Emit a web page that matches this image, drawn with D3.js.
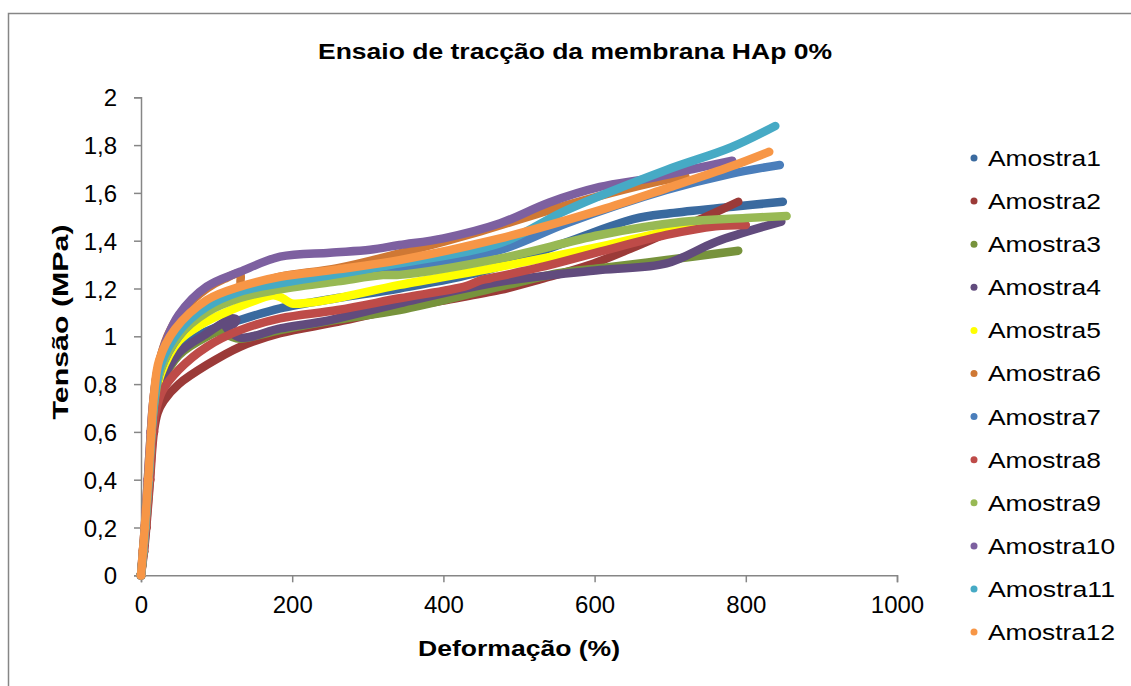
<!DOCTYPE html>
<html>
<head>
<meta charset="utf-8">
<script src="https://cdn.jsdelivr.net/npm/d3@7"></script>
<style>
  body { margin: 0; background: #fff; }
  svg { display: block; font-family: Arial, "Liberation Sans", sans-serif; }
</style>
</head>
<body>
<script>
/* Tensile test curves, membrane HAp 0% */
var seriesNames = ["Amostra1","Amostra2","Amostra3","Amostra4","Amostra5","Amostra6",
                   "Amostra7","Amostra8","Amostra9","Amostra10","Amostra11","Amostra12"];
var seriesColors = ["#3a6a9f","#9b3a38","#77933c","#614b7d","#ffff00","#cf7834",
                    "#4a7ebb","#be4b48","#98b954","#7d60a0","#46aac5","#f79646"];
var xTicks = [0, 200, 400, 600, 800, 1000];
var yTicks = [0, 0.2, 0.4, 0.6, 0.8, 1, 1.2, 1.4, 1.6, 1.8, 2];

// [deformação %, tensão MPa]
var amostra1 = [[0,0],[3,0.1],[5.5,0.2],[10,0.4],[14,0.6],[18,0.7],[25,0.8],[45,0.92],[80,1.01],[131,1.068],[184,1.117],[260,1.16],[342,1.2],[450,1.27],[560,1.39],[651,1.49],[700,1.515],[783,1.542],[849,1.563]];
var amostra2 = [[0,0],[4,0.1],[7,0.2],[12,0.4],[17,0.6],[22,0.68],[30,0.73],[50,0.8],[87,0.88],[131,0.956],[184,1.013],[260,1.06],[342,1.117],[400,1.15],[475,1.194],[530,1.24],[593,1.298],[650,1.37],[695,1.431],[740,1.49],[790,1.563]];
var amostra3 = [[0,0],[3,0.1],[6,0.2],[11,0.4],[15,0.6],[19,0.7],[27,0.8],[50,0.92],[87,0.998],[104,1.019],[118,1.0],[131,0.99],[184,1.026],[260,1.07],[342,1.11],[475,1.208],[554,1.265],[607,1.285],[695,1.319],[790,1.358]];
var amostra4 = [[0,0],[3,0.1],[6,0.2],[10.5,0.4],[14.5,0.6],[18,0.7],[26,0.8],[50,0.93],[87,1.012],[105,1.05],[118,1.075],[126,1.07],[122,1.05],[112,1.045],[131,0.995],[184,1.033],[250,1.068],[342,1.138],[475,1.228],[607,1.277],[695,1.305],[761,1.396],[847,1.48]];
var amostra5 = [[0,0],[3,0.1],[5.5,0.2],[10,0.4],[14,0.6],[18,0.72],[26,0.84],[50,0.98],[80,1.05],[109,1.096],[153,1.152],[175,1.172],[187,1.16],[199,1.138],[220,1.14],[260,1.16],[342,1.215],[475,1.291],[607,1.375],[695,1.438],[740,1.459],[770,1.465]];
var amostra6 = [[0,0],[2.5,0.1],[5,0.2],[9,0.4],[13,0.6],[16,0.72],[22,0.86],[35,1.0],[56,1.11],[87,1.2],[110,1.24],[131,1.262],[133,1.21],[184,1.25],[260,1.285],[342,1.347],[450,1.44],[563,1.549],[673,1.64],[720,1.67]];
var amostra7 = [[0,0],[3,0.1],[5.5,0.2],[10,0.4],[14,0.6],[18,0.73],[26,0.86],[50,1.0],[87,1.11],[131,1.175],[184,1.215],[260,1.245],[342,1.285],[475,1.361],[563,1.473],[695,1.612],[780,1.68],[845,1.717]];
var amostra8 = [[0,0],[3.5,0.1],[6.5,0.2],[11.5,0.4],[16,0.6],[20,0.69],[28,0.77],[50,0.86],[87,0.956],[131,1.026],[184,1.075],[260,1.11],[342,1.159],[430,1.21],[450,1.235],[462,1.243],[530,1.29],[607,1.354],[695,1.424],[760,1.46],[800,1.466]];
var amostra9 = [[0,0],[3,0.1],[5.5,0.2],[10,0.4],[14,0.6],[18,0.73],[26,0.86],[50,1.0],[87,1.1],[131,1.16],[179,1.194],[260,1.23],[320,1.256],[342,1.257],[475,1.326],[607,1.424],[717,1.479],[800,1.495],[854,1.503]];
var amostra10 = [[0,0],[2.5,0.1],[5,0.2],[9,0.4],[13,0.6],[16,0.72],[22,0.86],[33,0.98],[50,1.09],[87,1.208],[131,1.27],[184,1.333],[250,1.35],[303,1.362],[342,1.382],[400,1.41],[475,1.473],[540,1.56],[607,1.625],[673,1.661],[730,1.7],[782,1.735]];
var amostra11 = [[0,0],[3,0.1],[5.5,0.2],[10,0.4],[14,0.6],[18,0.74],[26,0.88],[50,1.02],[87,1.124],[131,1.187],[184,1.222],[260,1.26],[342,1.305],[475,1.389],[563,1.528],[695,1.696],[780,1.79],[839,1.88]];
var amostra12 = [[0,0],[2.5,0.1],[5,0.2],[9.5,0.4],[13.5,0.6],[17,0.75],[24,0.9],[45,1.03],[87,1.152],[131,1.208],[184,1.249],[260,1.28],[342,1.319],[475,1.41],[607,1.528],[695,1.619],[780,1.71],[831,1.772]];
var seriesData = [amostra1, amostra2, amostra3, amostra4, amostra5, amostra6,
                  amostra7, amostra8, amostra9, amostra10, amostra11, amostra12];

var W = 1131, H = 686;
var svg = d3.select("body").append("svg").attr("width", W).attr("height", H);

// chart area border
svg.append("rect")
  .attr("x", 8.5).attr("y", 13.5).attr("width", 1200).attr("height", 700)
  .attr("fill", "#fff").attr("stroke", "#868686").attr("stroke-width", 1.5);

var x = d3.scaleLinear().domain([0, 1000]).range([141, 897]);
var y = d3.scaleLinear().domain([0, 2]).range([575.3, 97.3]);
var fmt = function(d){ return String(d).replace(".", ","); };

// axes
var yAxis = svg.append("g").attr("transform", "translate(141,0)")
  .call(d3.axisLeft(y).tickValues(yTicks).tickSize(7).tickPadding(17).tickFormat(fmt));
var xAxis = svg.append("g").attr("transform", "translate(0,575.3)")
  .call(d3.axisBottom(x).tickValues(xTicks).tickSize(7).tickPadding(12).tickFormat(fmt));
[yAxis, xAxis].forEach(function(a){
  a.select(".domain").attr("stroke", "#868686").attr("stroke-width", 1.5);
  a.selectAll(".tick line").attr("stroke", "#868686").attr("stroke-width", 1.5);
  a.selectAll(".tick text").attr("font-size", 24).attr("fill", "#000")
    .attr("font-family", "Arial, 'Liberation Sans', sans-serif");
});
yAxis.selectAll(".tick text").attr("dy", "0.36em");
xAxis.selectAll(".tick text").attr("dy", "0.8em");

// series: thick smooth lines of markers
var line = d3.line()
  .curve(d3.curveCatmullRom.alpha(0.5))
  .x(function(d){ return x(d[0]); })
  .y(function(d){ return y(d[1]); });
var plot = svg.append("g").attr("class", "series");
seriesData.forEach(function(pts, i){
  var g = plot.append("g");
  g.append("path").datum(pts)
    .attr("d", line)
    .attr("fill", "none")
    .attr("stroke", seriesColors[i])
    .attr("stroke-width", 8.5)
    .attr("stroke-linecap", "round")
    .attr("stroke-linejoin", "round");
  // markers only along the steep start where they show as separate dots
  g.selectAll("circle").data(pts.filter(function(d){ return d[1] <= 0.6; })).enter().append("circle")
    .attr("cx", function(d){ return x(d[0]); })
    .attr("cy", function(d){ return y(d[1]); })
    .attr("r", 4.5)
    .attr("fill", seriesColors[i]);
});

// title and axis titles
svg.append("text").attr("x", 575).attr("y", 58.5)
  .attr("text-anchor", "middle").attr("font-size", 22).attr("font-weight", "bold")
  .attr("textLength", 514).attr("lengthAdjust", "spacingAndGlyphs")
  .text("Ensaio de tracção da membrana HAp 0%");
svg.append("text").attr("x", 519).attr("y", 656)
  .attr("text-anchor", "middle").attr("font-size", 22).attr("font-weight", "bold")
  .attr("textLength", 202).attr("lengthAdjust", "spacingAndGlyphs")
  .text("Deformação (%)");
svg.append("text").attr("transform", "translate(68,322) rotate(-90)")
  .attr("text-anchor", "middle").attr("font-size", 22).attr("font-weight", "bold")
  .attr("textLength", 195).attr("lengthAdjust", "spacingAndGlyphs")
  .text("Tensão (MPa)");

// legend
var leg = svg.append("g").selectAll("g").data(seriesNames).enter().append("g")
  .attr("transform", function(d, i){ return "translate(974," + (158 + i * 43.1) + ")"; });
leg.append("circle").attr("r", 3.5).attr("fill", function(d, i){ return seriesColors[i]; });
leg.append("text").attr("x", 14).attr("dy", "0.36em").attr("font-size", 22)
  .attr("textLength", function(d){ return d.length > 8 ? 127 : 113; })
  .attr("lengthAdjust", "spacingAndGlyphs")
  .text(function(d){ return d; });
</script>
</body>
</html>
